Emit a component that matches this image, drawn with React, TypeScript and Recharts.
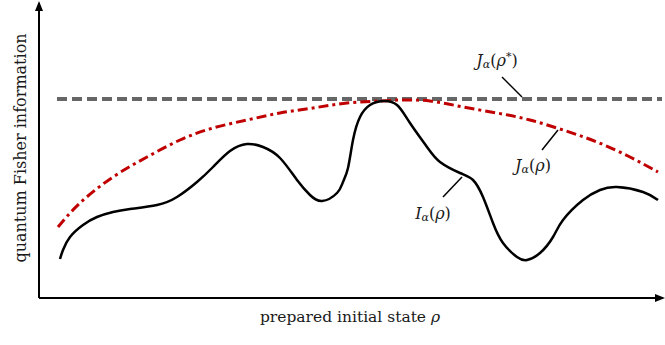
import {
  ComposedChart,
  Line,
  ReferenceDot,
  ReferenceLine,
  XAxis,
  YAxis,
} from "recharts";

// positions along the state axis / information axis
const iAlphaX = [21, 24, 31, 44, 58, 74, 91, 118, 138, 158, 174, 191, 208, 224, 241, 258, 271, 283, 298, 304, 309, 314, 321, 331, 344, 358, 371, 388, 401, 421, 434, 444, 454, 464, 478, 488, 501, 514, 524, 544, 561, 578, 604, 619];
const iAlphaY = [39, 48, 61, 73, 81, 86, 89, 93, 101, 116, 131, 147, 154, 151, 140, 118, 103, 97, 105, 116, 130, 158, 181, 193, 197, 193, 175, 151, 136, 125, 118, 101, 75, 55, 41, 38, 45, 61, 78, 98, 108, 111, 106, 98];

const jAlphaX = [19, 41, 74, 108, 141, 174, 208, 241, 274, 308, 341, 361, 391, 424, 458, 491, 524, 558, 591, 619];
const jAlphaY = [71, 95, 121, 141, 158, 170, 178, 185, 190, 195, 197, 198, 197, 191, 185, 178, 168, 156, 141, 126];

const jStar = 199;
const jStarFrom = 18;
const jStarTo = 623;

const iData = iAlphaX.map((x, i) => ({ x, i: iAlphaY[i] }));
const jData = jAlphaX.map((x, i) => ({ x, j: jAlphaY[i] }));

const FONT = "'DejaVu Serif', serif";
const INK = "#1a1a1a";

function MathLabel({ cx, cy, sym, star }: { cx?: number; cy?: number; sym: string; star?: boolean }) {
  if (cx == null || cy == null) return null;
  return (
    <text x={cx} y={cy} textAnchor="middle" dominantBaseline="central" fontFamily={FONT} fontSize={16} fill={INK}>
      <tspan fontStyle="italic">{sym}</tspan>
      <tspan fontStyle="italic" fontSize={11} dy={4}>α</tspan>
      <tspan dy={-4}>(</tspan>
      <tspan fontStyle="italic">ρ</tspan>
      {star ? <tspan fontSize={11} dy={-4}>*</tspan> : null}
      <tspan dy={star ? 4 : 0}>)</tspan>
    </text>
  );
}

export default function App() {
  return (
    <div style={{ position: "absolute", left: 0, top: 0, width: 665, height: 345, background: "#fff" }}>
      <svg width={0} height={0} style={{ position: "absolute" }}>
        <defs>
          <marker id="axisArrow" viewBox="0 0 10 8" refX={8} refY={4} markerWidth={10} markerHeight={8} markerUnits="userSpaceOnUse" orient="auto-start-reverse">
            <path d="M0,0 L10,4 L0,8 z" fill="#000" />
          </marker>
        </defs>
      </svg>
      <ComposedChart width={665} height={345} data={iData} margin={{ top: 3, right: 2, bottom: 0, left: 0 }}>
        <XAxis
          type="number"
          dataKey="x"
          domain={[0, 624]}
          tick={false}
          tickLine={false}
          height={47}
          axisLine={{ stroke: "#000", strokeWidth: 2, markerEnd: "url(#axisArrow)" }}
          label={({ viewBox }: any) => (
            <text x={viewBox.x + 311} y={viewBox.y + 24} textAnchor="middle" fontFamily={FONT} fontSize={15.5} fill={INK}>
              prepared initial state <tspan fontStyle="italic">ρ</tspan>
            </text>
          )}
        />
        <YAxis
          type="number"
          domain={[0, 295]}
          tick={false}
          tickLine={false}
          width={39}
          axisLine={{ stroke: "#000", strokeWidth: 2, markerStart: "url(#axisArrow)" }}
          label={() => (
            <text x={20} y={148} transform="rotate(-90 20 148)" textAnchor="middle" dominantBaseline="central" fontFamily={FONT} fontSize={16} fill={INK}>
              quantum Fisher information
            </text>
          )}
        />
        <ReferenceLine
          segment={[{ x: jStarFrom, y: jStar }, { x: jStarTo, y: jStar }]}
          stroke="#666"
          strokeWidth={4}
          strokeDasharray="10 5"
        />
        <Line
          data={jData}
          dataKey="j"
          type="natural"
          stroke="#c00000"
          strokeWidth={3}
          strokeDasharray="10 4 3 4"
          dot={false}
          isAnimationActive={false}
        />
        <Line
          dataKey="i"
          type="natural"
          stroke="#000"
          strokeWidth={2.5}
          dot={false}
          isAnimationActive={false}
        />
        <ReferenceLine segment={[{ x: 463, y: 221 }, { x: 483, y: 201 }]} stroke="#000" strokeWidth={1.5} />
        <ReferenceLine segment={[{ x: 503, y: 148 }, { x: 519, y: 168 }]} stroke="#000" strokeWidth={1.5} />
        <ReferenceLine segment={[{ x: 404, y: 101 }, { x: 423, y: 121 }]} stroke="#000" strokeWidth={1.5} />
        <ReferenceDot x={458} y={238} r={0} shape={(p: any) => <MathLabel cx={p.cx} cy={p.cy} sym="J" star />} />
        <ReferenceDot x={494} y={133} r={0} shape={(p: any) => <MathLabel cx={p.cx} cy={p.cy} sym="J" />} />
        <ReferenceDot x={394} y={85} r={0} shape={(p: any) => <MathLabel cx={p.cx} cy={p.cy} sym="I" />} />
      </ComposedChart>
    </div>
  );
}
